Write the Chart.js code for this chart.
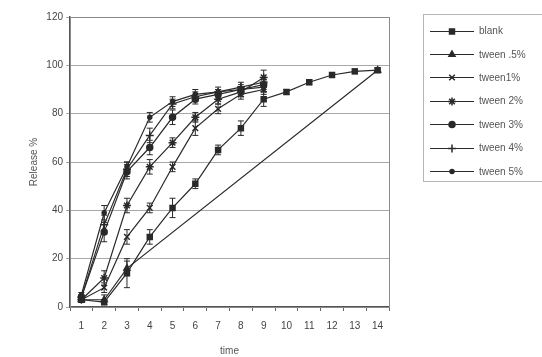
<!DOCTYPE html>
<html>
<head>
<meta charset="utf-8">
<script src="https://cdn.jsdelivr.net/npm/chart.js@4"></script>
<style>
  body { margin: 0; background: #fff; }
  #wrap { position: relative; width: 542px; height: 357px; }
  #legend {
    position: absolute; left: 423px; top: 14px; width: 125px; height: 168px;
    border: 1px solid #b5b5b5; box-sizing: border-box; padding-top: 4px;
    font-family: "Liberation Sans", Arial, sans-serif; font-size: 10px; color: #555;
  }
  .row { height: 23.4px; display: flex; align-items: center; }
  .row canvas { margin-left: 6px; margin-right: 5px; }
</style>
</head>
<body>
<div id="wrap">
  <canvas id="chart" width="542" height="357"></canvas>
  <div id="legend"></div>
</div>
<script>
// time points (category axis)
const times = ['1', '2', '3', '4', '5', '6', '7', '8', '9', '10', '11', '12', '13', '14'];

// release %
const blank   = [3, 2, 14, 29, 41, 51, 65, 74, 86, 89, 93, 96, 97.5, 98];
const tween05 = [3, 3, 16, null, null, null, null, null, null, null, null, null, null, 98];
const tween1  = [3, 8, 29, 41, 58, 74, 82, 88, 90];
const tween2  = [3, 12, 42, 58, 68, 78.5, 86, 89, 95];
const tween3  = [4, 31, 56, 66, 78.5, 86, 88, 90, 92];
const tween4  = [4, 34, 57, 71, 84, 87, 89, 91, 93];
const tween5  = [5, 39, 58, 78.5, 85, 88, 89, 90, 91];

// error bar half-heights
const blankErr   = [1, 1, 6, 3, 4, 2, 2, 3, 3, 1, 1, 1, 1, 1];
const tween05Err = [1, 2, 3];
const tween1Err  = [1, 2, 3, 2, 2, 3, 2, 2, 2];
const tween2Err  = [1, 3, 3, 3, 2, 2, 2, 2, 3];
const tween3Err  = [1, 4, 3, 3, 3, 2, 2, 2, 2];
const tween4Err  = [1, 4, 3, 3, 2, 2, 2, 2, 2];
const tween5Err  = [1, 3, 2, 2, 2, 2, 1, 1, 2];

const yTicks = [0, 20, 40, 60, 80, 100, 120];

const ink = '#2a2a2a';

const series = [
  { label: 'blank',      data: blank,   errors: blankErr,   pointStyle: 'rect',     pointRadius: 3.5 },
  { label: 'tween  .5%', data: tween05, errors: tween05Err, pointStyle: 'triangle', pointRadius: 3.5 },
  { label: 'tween1%',    data: tween1,  errors: tween1Err,  pointStyle: 'crossRot', pointRadius: 4 },
  { label: 'tween 2%',   data: tween2,  errors: tween2Err,  pointStyle: 'star',     pointRadius: 4 },
  { label: 'tween 3%',   data: tween3,  errors: tween3Err,  pointStyle: 'circle',   pointRadius: 3 },
  { label: 'tween 4%',   data: tween4,  errors: tween4Err,  pointStyle: 'cross',    pointRadius: 4 },
  { label: 'tween 5%',   data: tween5,  errors: tween5Err,  pointStyle: 'circle',   pointRadius: 2 }
];

// error bars drawn through the y scale
const errorBars = {
  id: 'errorBars',
  afterDatasetsDraw(chart) {
    const ctx = chart.ctx;
    const y = chart.scales.y;
    ctx.save();
    ctx.strokeStyle = ink;
    ctx.lineWidth = 1;
    chart.data.datasets.forEach((ds, i) => {
      if (!ds.errors) return;
      const meta = chart.getDatasetMeta(i);
      meta.data.forEach((pt, j) => {
        const v = ds.data[j], e = ds.errors[j];
        if (v == null || e == null) return;
        const top = y.getPixelForValue(v + e);
        const bot = y.getPixelForValue(v - e);
        ctx.beginPath();
        ctx.moveTo(pt.x, top); ctx.lineTo(pt.x, bot);
        ctx.moveTo(pt.x - 3, top); ctx.lineTo(pt.x + 3, top);
        ctx.moveTo(pt.x - 3, bot); ctx.lineTo(pt.x + 3, bot);
        ctx.stroke();
      });
    });
    ctx.restore();
  }
};

// grey frame round the plot area
const plotFrame = {
  id: 'plotFrame',
  beforeDatasetsDraw(chart) {
    const { ctx, chartArea: a } = chart;
    ctx.save();
    ctx.strokeStyle = '#8a8a8a';
    ctx.lineWidth = 1;
    ctx.strokeRect(a.left + 0.5, a.top + 0.5, a.right - a.left, a.bottom - a.top);
    ctx.restore();
  }
};

const ctx = document.getElementById('chart').getContext('2d');
const myChart = new Chart(ctx, {
  type: 'line',
  data: {
    labels: times,
    datasets: series.map(s => ({
      label: s.label,
      data: s.data,
      errors: s.errors,
      borderColor: ink,
      backgroundColor: ink,
      borderWidth: 1.2,
      pointStyle: s.pointStyle,
      pointRadius: s.pointRadius,
      pointBorderWidth: 1.5,
      pointBorderColor: ink,
      pointBackgroundColor: ink,
      spanGaps: true,
      tension: 0
    }))
  },
  options: {
    responsive: false,
    animation: false,
    layout: { padding: { left: 24, top: 17, right: 153, bottom: 0 } },
    plugins: {
      legend: { display: false },
      tooltip: { enabled: false }
    },
    scales: {
      x: {
        type: 'category',
        offset: true,
        grid: { display: true, drawOnChartArea: false, offset: true, tickLength: 4, color: '#666' },
        border: { color: '#555', width: 1.5 },
        ticks: { color: '#444', padding: 9, maxRotation: 0, autoSkip: false,
                 font: { family: 'Liberation Sans, Arial', size: 10 } },
        title: { display: true, text: 'time', color: '#555', padding: { top: 6, bottom: 0 },
                 font: { family: 'Liberation Sans, Arial', size: 10 } },
        afterFit: axis => { axis.height = 50; }
      },
      y: {
        min: 0,
        max: 120,
        afterBuildTicks: axis => { axis.ticks = yTicks.map(v => ({ value: v })); },
        grid: { color: '#a8a8a8', tickLength: 4 },
        border: { color: '#555', width: 1.5 },
        ticks: { color: '#444', padding: 3,
                 font: { family: 'Liberation Sans, Arial', size: 10 } },
        title: { display: true, text: 'Release %', color: '#555', padding: 4,
                 font: { family: 'Liberation Sans, Arial', size: 10 } },
        afterFit: axis => { axis.width = 46; }
      }
    }
  },
  plugins: [plotFrame, errorBars]
});

// legend: line with marker, then the label
const legend = document.getElementById('legend');
series.forEach(s => {
  const row = document.createElement('div');
  row.className = 'row';
  const c = document.createElement('canvas');
  c.width = 44; c.height = 12;
  const g = c.getContext('2d');
  g.strokeStyle = ink; g.fillStyle = ink; g.lineWidth = 1.2;
  g.beginPath(); g.moveTo(0, 6.5); g.lineTo(44, 6.5); g.stroke();
  if (Chart.helpers && Chart.helpers.drawPoint) {
    g.lineWidth = 1.5;
    Chart.helpers.drawPoint(g, { pointStyle: s.pointStyle, radius: s.pointRadius, rotation: 0, borderWidth: 1.5 }, 22, 6.5);
  }
  const t = document.createElement('span');
  t.textContent = s.label;
  row.appendChild(c);
  row.appendChild(t);
  legend.appendChild(row);
});
</script>
</body>
</html>
